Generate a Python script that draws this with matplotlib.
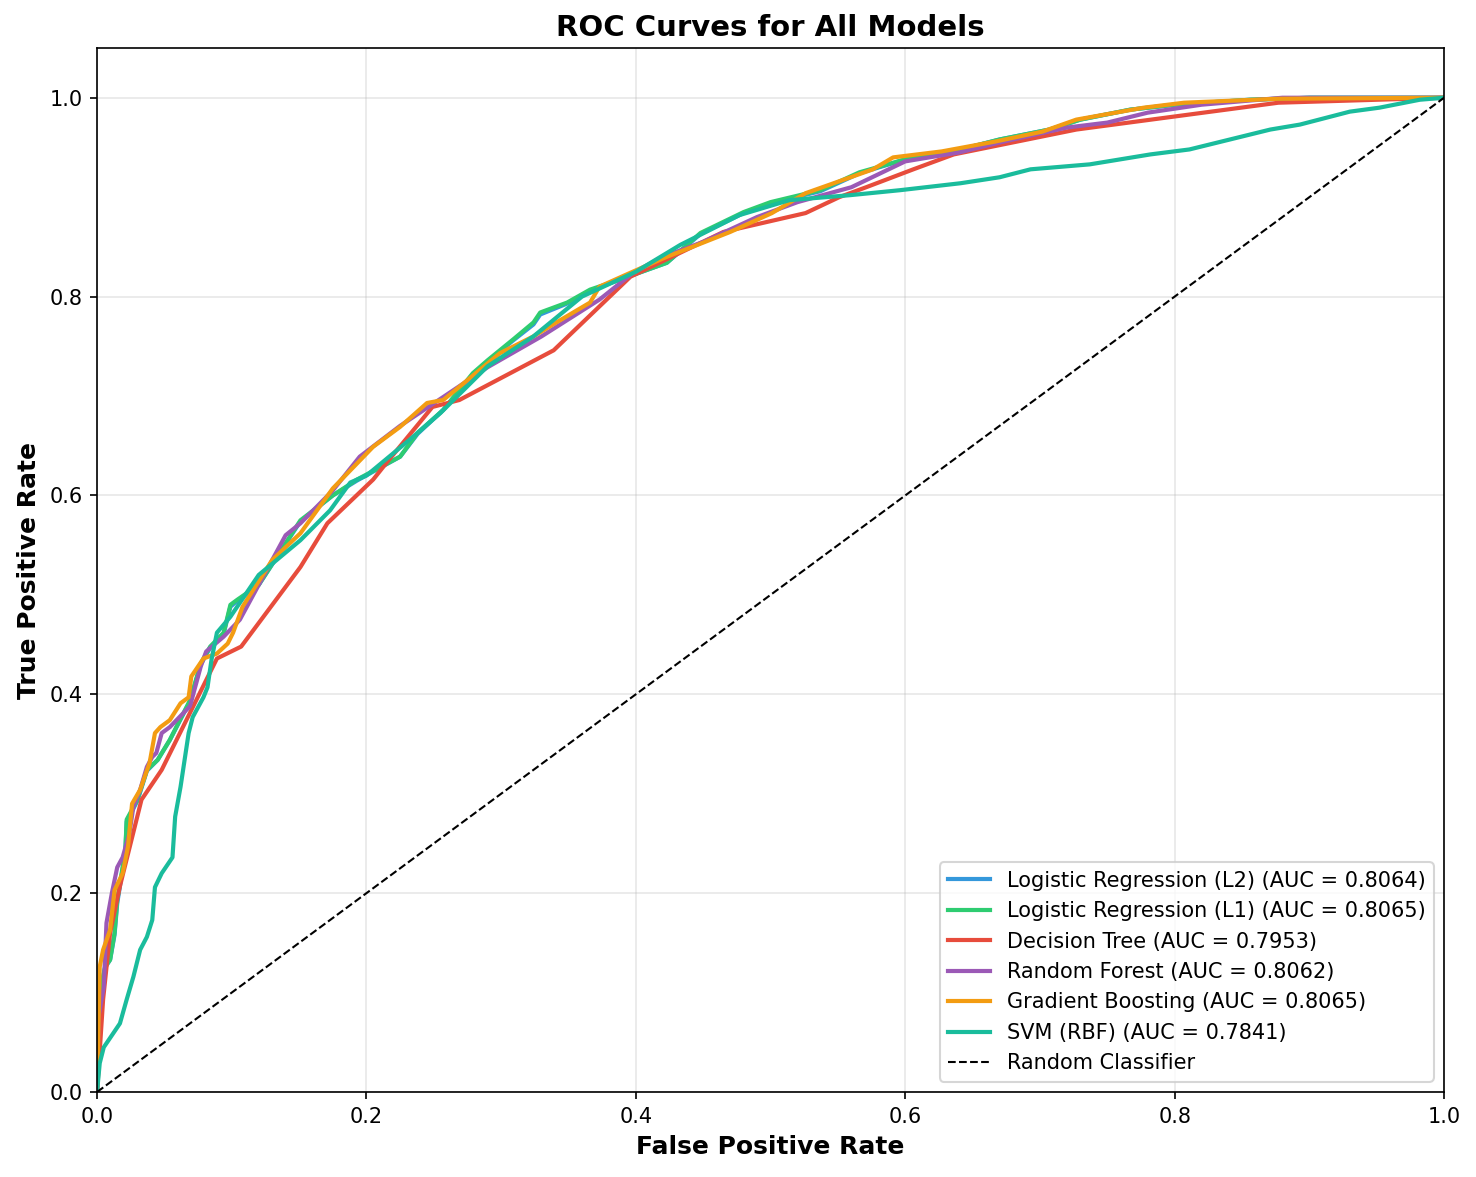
import matplotlib
matplotlib.use('Agg')
import matplotlib.pyplot as plt

# model names / AUCs
models = ['Logistic Regression (L2)', 'Logistic Regression (L1)', 'Decision Tree',
          'Random Forest', 'Gradient Boosting', 'SVM (RBF)']
aucs = [0.8064, 0.8065, 0.7953, 0.8062, 0.8065, 0.7841]
colors = ['#3498db', '#2ecc71', '#e74c3c', '#9b59b6', '#f39c12', '#1abc9c']

# ROC points
lr2_fpr = [0, 0.002, 0.006, 0.0097, 0.013, 0.015, 0.021, 0.022, 0.03, 0.037, 0.045, 0.054, 0.069,
           0.077, 0.084, 0.094, 0.099, 0.104, 0.12, 0.151, 0.175, 0.193, 0.225, 0.238, 0.257, 0.279,
           0.29, 0.309, 0.324, 0.329, 0.349, 0.366, 0.388, 0.423, 0.448, 0.48, 0.5, 0.537, 0.566,
           0.6, 0.641, 0.67, 0.707, 0.73, 0.767, 0.8, 0.856, 0.9, 1.0]
lr2_tpr = [0, 0.1, 0.125, 0.133, 0.158, 0.19, 0.241, 0.272, 0.293, 0.323, 0.334, 0.354, 0.393,
           0.43, 0.447, 0.461, 0.488, 0.494, 0.51, 0.574, 0.6, 0.615, 0.639, 0.662, 0.686, 0.722,
           0.735, 0.756, 0.772, 0.782, 0.793, 0.806, 0.817, 0.834, 0.863, 0.884, 0.894, 0.906, 0.924,
           0.938, 0.948, 0.958, 0.968, 0.978, 0.988, 0.993, 0.998, 1.0, 1.0]

lr1_fpr = [0, 0.002, 0.006, 0.0097, 0.013, 0.015, 0.021, 0.022, 0.03, 0.037, 0.045, 0.054, 0.069,
           0.077, 0.084, 0.094, 0.099, 0.104, 0.12, 0.151, 0.175, 0.193, 0.225, 0.238, 0.257, 0.279,
           0.29, 0.309, 0.324, 0.329, 0.349, 0.366, 0.388, 0.423, 0.448, 0.48, 0.5, 0.537, 0.566,
           0.6, 0.641, 0.67, 0.707, 0.73, 0.767, 0.8, 0.856, 0.9, 1.0]
lr1_tpr = [0, 0.1, 0.126, 0.133, 0.16, 0.193, 0.243, 0.274, 0.294, 0.324, 0.334, 0.354, 0.394,
           0.431, 0.448, 0.462, 0.49, 0.495, 0.51, 0.575, 0.6, 0.616, 0.639, 0.663, 0.686, 0.723,
           0.736, 0.757, 0.774, 0.784, 0.794, 0.807, 0.817, 0.834, 0.864, 0.885, 0.895, 0.907, 0.925,
           0.938, 0.948, 0.958, 0.968, 0.978, 0.988, 0.993, 0.998, 1.0, 1.0]

dt_fpr = [0, 0.0045, 0.0097, 0.017, 0.033, 0.048, 0.089, 0.107, 0.151, 0.171, 0.205, 0.215, 0.249,
          0.269, 0.339, 0.396, 0.465, 0.526, 0.551, 0.571, 0.606, 0.636, 0.727, 0.877, 1.0]
dt_tpr = [0, 0.093, 0.16, 0.207, 0.294, 0.324, 0.436, 0.448, 0.528, 0.572, 0.616, 0.633, 0.689,
          0.696, 0.746, 0.82, 0.865, 0.884, 0.9, 0.91, 0.928, 0.943, 0.968, 0.995, 1.0]

rf_fpr = [0, 0.001, 0.005, 0.007, 0.011, 0.015, 0.019, 0.024, 0.027, 0.032, 0.037, 0.041, 0.044,
          0.048, 0.054, 0.059, 0.069, 0.077, 0.081, 0.094, 0.106, 0.13, 0.14, 0.151, 0.175, 0.195,
          0.225, 0.257, 0.29, 0.33, 0.373, 0.398, 0.42, 0.45, 0.49, 0.52, 0.56, 0.6, 0.64, 0.67,
          0.72, 0.75, 0.78, 0.82, 0.88, 1.0]
rf_tpr = [0, 0.075, 0.106, 0.17, 0.2, 0.226, 0.236, 0.26, 0.287, 0.304, 0.327, 0.337, 0.341,
          0.361, 0.367, 0.374, 0.388, 0.428, 0.443, 0.458, 0.475, 0.535, 0.56, 0.572, 0.605, 0.639,
          0.67, 0.699, 0.729, 0.76, 0.797, 0.824, 0.84, 0.855, 0.88, 0.895, 0.91, 0.936, 0.945,
          0.955, 0.97, 0.975, 0.985, 0.993, 1.0, 1.0]

gb_fpr = [0, 0.002, 0.0045, 0.0097, 0.013, 0.019, 0.023, 0.026, 0.032, 0.039, 0.043, 0.047, 0.054,
          0.062, 0.068, 0.07, 0.079, 0.089, 0.097, 0.101, 0.108, 0.13, 0.151, 0.175, 0.205, 0.225,
          0.245, 0.257, 0.275, 0.299, 0.324, 0.341, 0.366, 0.373, 0.396, 0.423, 0.442, 0.47, 0.501,
          0.526, 0.576, 0.591, 0.627, 0.667, 0.702, 0.727, 0.777, 0.807, 0.877, 1.0]
gb_tpr = [0, 0.126, 0.143, 0.163, 0.203, 0.22, 0.247, 0.29, 0.304, 0.331, 0.361, 0.367, 0.374,
          0.391, 0.397, 0.418, 0.436, 0.441, 0.451, 0.462, 0.488, 0.535, 0.562, 0.607, 0.649, 0.669,
          0.693, 0.696, 0.716, 0.743, 0.76, 0.774, 0.794, 0.81, 0.824, 0.84, 0.85, 0.865, 0.884,
          0.904, 0.928, 0.94, 0.946, 0.956, 0.966, 0.978, 0.99, 0.995, 0.999, 1.0]

svm_fpr = [0, 0.002, 0.005, 0.01, 0.017, 0.022, 0.027, 0.032, 0.037, 0.041, 0.043, 0.048, 0.056,
           0.058, 0.062, 0.065, 0.068, 0.071, 0.079, 0.082, 0.085, 0.089, 0.099, 0.12, 0.151, 0.173,
           0.188, 0.2, 0.232, 0.255, 0.29, 0.324, 0.36, 0.4, 0.433, 0.477, 0.514, 0.559, 0.596,
           0.641, 0.67, 0.693, 0.737, 0.782, 0.811, 0.841, 0.871, 0.893, 0.93, 0.952, 0.982, 1.0]
svm_tpr = [0, 0.029, 0.045, 0.055, 0.069, 0.093, 0.116, 0.143, 0.156, 0.173, 0.206, 0.22, 0.236,
           0.277, 0.307, 0.334, 0.361, 0.377, 0.397, 0.407, 0.435, 0.462, 0.478, 0.52, 0.555, 0.585,
           0.613, 0.62, 0.656, 0.683, 0.73, 0.76, 0.8, 0.825, 0.852, 0.882, 0.897, 0.902, 0.907,
           0.914, 0.92, 0.928, 0.933, 0.943, 0.948, 0.958, 0.968, 0.973, 0.986, 0.99, 0.998, 1.0]

curves = [(lr2_fpr, lr2_tpr), (lr1_fpr, lr1_tpr), (dt_fpr, dt_tpr),
          (rf_fpr, rf_tpr), (gb_fpr, gb_tpr), (svm_fpr, svm_tpr)]

fig, ax = plt.subplots(figsize=(1477/150, 1177/150), dpi=150)
fig.subplots_adjust(left=0.0657, right=0.9777, bottom=0.0722, top=0.9592)

for name, auc, c, (fx, ty) in zip(models, aucs, colors, curves):
    ax.plot(fx, ty, color=c, lw=2, label=f'{name} (AUC = {auc:.4f})')

ax.plot([0, 1], [0, 1], 'k--', lw=1, label='Random Classifier')

ax.set_xlim(0, 1)
ax.set_ylim(0, 1.05)
ax.set_xlabel('False Positive Rate', fontsize=12, fontweight='bold')
ax.set_ylabel('True Positive Rate', fontsize=12, fontweight='bold')
ax.set_title('ROC Curves for All Models', fontsize=14, fontweight='bold')
ax.grid(alpha=0.3)
ax.legend(loc='lower right', fontsize=10)

plt.savefig('out.png', dpi=150)
